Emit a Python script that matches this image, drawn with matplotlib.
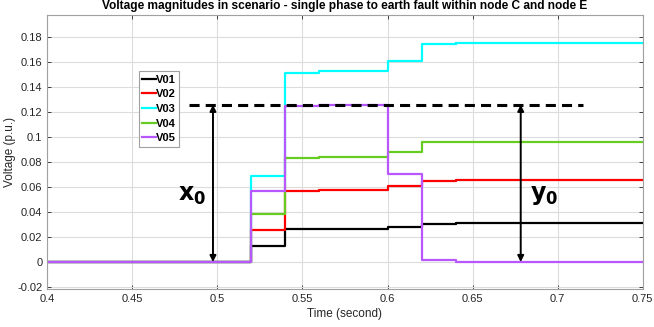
import matplotlib
matplotlib.use("Agg")
import matplotlib.pyplot as plt
from matplotlib.ticker import FixedLocator, FixedFormatter

plt.rcParams['font.family'] = ['Liberation Sans', 'DejaVu Sans']

# Data
t = [0.40, 0.52, 0.54, 0.56, 0.60, 0.62, 0.64, 0.75]
V01 = [0, 0.0128, 0.0264, 0.0266, 0.0280, 0.0307, 0.0310, 0.0310]
V02 = [0, 0.0260, 0.0568, 0.0576, 0.0605, 0.0650, 0.0653, 0.0653]
V03 = [0, 0.0690, 0.1514, 0.1530, 0.1608, 0.1744, 0.1755, 0.1755]
V04 = [0, 0.0384, 0.0834, 0.0842, 0.0880, 0.0958, 0.0962, 0.0962]
V05 = [0, 0.0570, 0.1250, 0.1256, 0.0704, 0.0016, 0.0000, 0.0000]
series = [("V01", V01, "#000000"), ("V02", V02, "#ff0000"),
          ("V03", V03, "#00ffff"), ("V04", V04, "#66cc22"),
          ("V05", V05, "#b957ff")]

ref_level = 0.1258
ref_x = [0.4833, 0.7148]
x0_pos = 0.4974
y0_pos = 0.6783

xticks = [0.4, 0.45, 0.5, 0.55, 0.6, 0.65, 0.7, 0.75]
xticklabels = ["0.4", "0.45", "0.5", "0.55", "0.6", "0.65", "0.7", "0.75"]
yticks = [-0.02, 0, 0.02, 0.04, 0.06, 0.08, 0.1, 0.12, 0.14, 0.16, 0.18]
yticklabels = ["-0.02", "0", "0.02", "0.04", "0.06", "0.08", "0.1", "0.12", "0.14", "0.16", "0.18"]

fig = plt.figure(figsize=(6.54, 3.27), dpi=100)
ax = fig.add_axes([0.0723, 0.1153, 0.9104, 0.8387])

for name, v, c in series:
    ax.plot(t, v, drawstyle='steps-post', color=c, lw=1.6, label=name)

ax.plot(ref_x, [ref_level, ref_level], color='black', lw=2.2, ls=(0, (3.3, 2.0)), zorder=5)

for xp in (x0_pos, y0_pos):
    ax.annotate("", xy=(xp, 0), xytext=(xp, ref_level),
                arrowprops=dict(arrowstyle='<|-|>', color='black', lw=1.4,
                                mutation_scale=9, shrinkA=0, shrinkB=0), zorder=6)

ax.text(0.4936, 0.053, r"$\mathbf{x_0}$", fontsize=17, ha='right', va='center')
ax.text(0.6835, 0.053, r"$\mathbf{y_0}$", fontsize=17, ha='left', va='center')

ax.set_xlim(0.4, 0.75)
ax.set_ylim(-0.0218, 0.1976)
ax.xaxis.set_major_locator(FixedLocator(xticks))
ax.xaxis.set_major_formatter(FixedFormatter(xticklabels))
ax.yaxis.set_major_locator(FixedLocator(yticks))
ax.yaxis.set_major_formatter(FixedFormatter(yticklabels))
ax.grid(True, color='#dcdcdc', lw=0.8)
ax.set_axisbelow(True)
ax.tick_params(direction='in', length=3, width=0.6, colors='#262626', labelsize=8,
               top=True, right=True)
for s in ax.spines.values():
    s.set_color('#a0a0a0')
    s.set_linewidth(0.8)

ax.set_title("Voltage magnitudes in scenario - single phase to earth fault within node C and node E",
             fontsize=8.6, fontweight='bold', pad=4)
ax.set_xlabel("Time (second)", fontsize=8.5, color='#262626', labelpad=3)
ax.set_ylabel("Voltage (p.u.)", fontsize=8.5, color='#262626', labelpad=1)

leg = ax.legend(loc='upper left', bbox_to_anchor=(0.154, 0.795),
                prop={'weight': 'bold', 'size': 8}, handlelength=1.2, handletextpad=0.05,
                borderpad=0.3, labelspacing=0.42, borderaxespad=0, fancybox=False,
                framealpha=1, edgecolor='#a0a0a0')
leg.get_frame().set_linewidth(0.8)

fig.savefig("out.png", dpi=100)
